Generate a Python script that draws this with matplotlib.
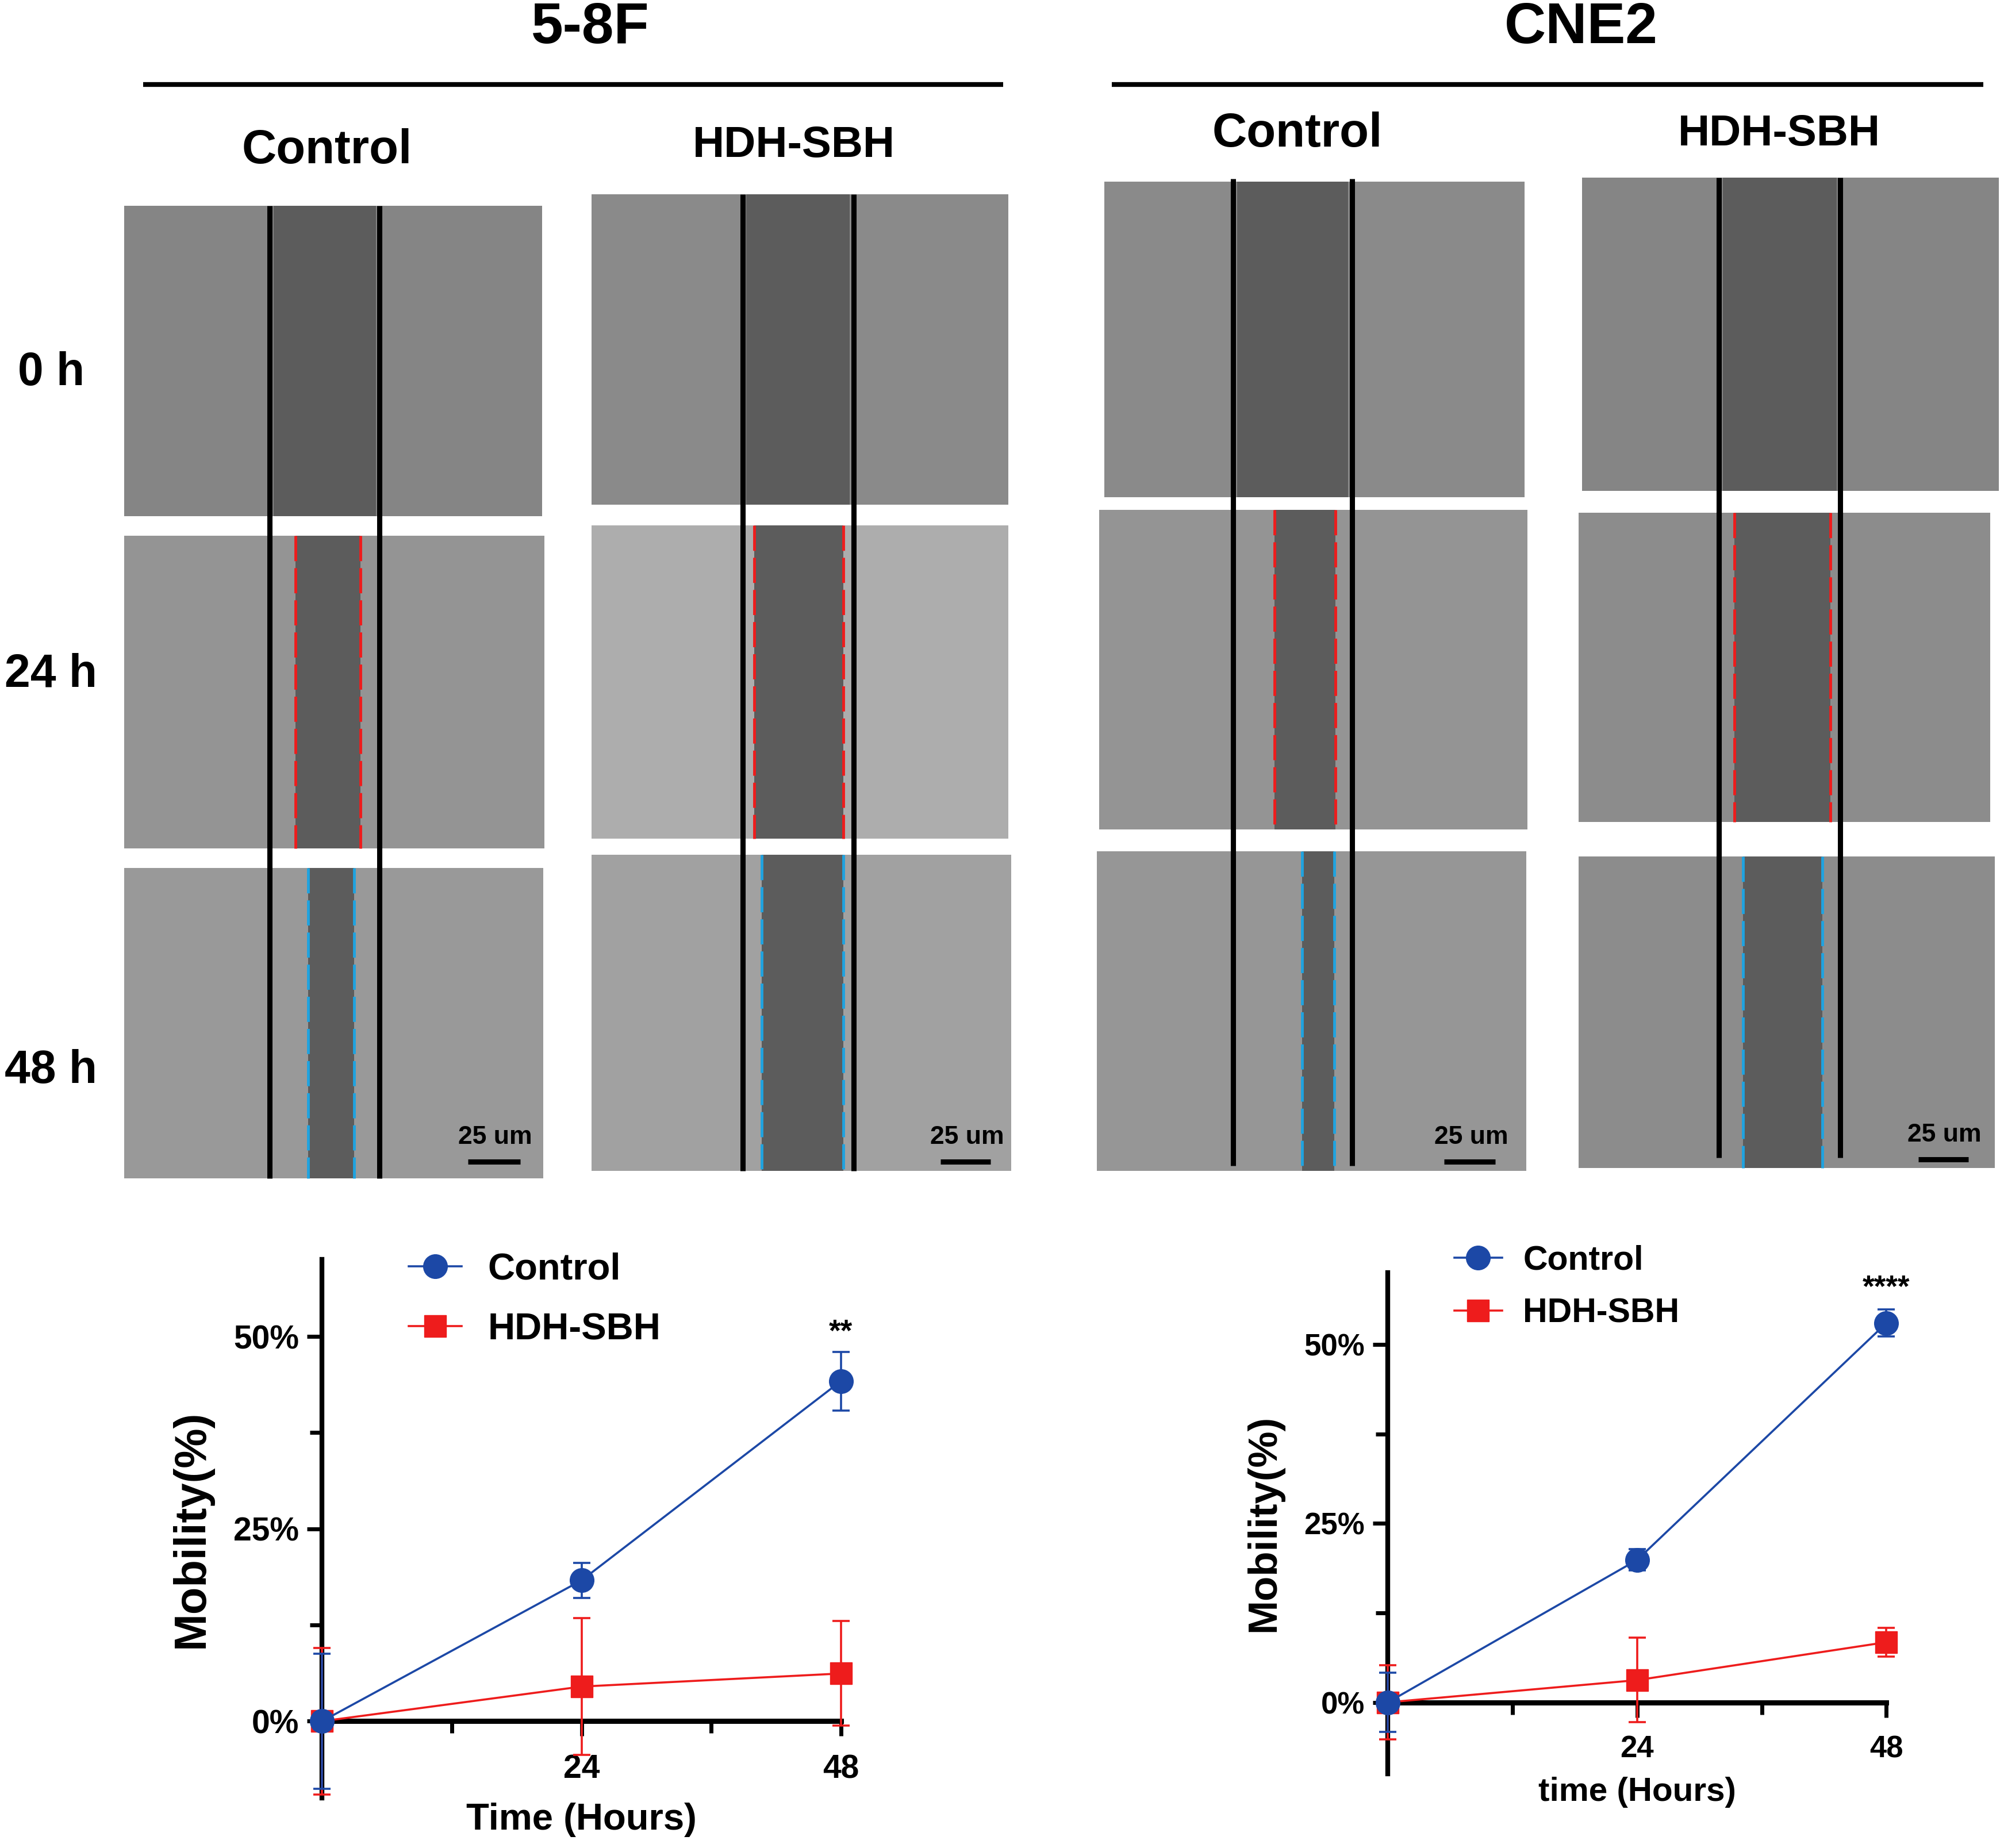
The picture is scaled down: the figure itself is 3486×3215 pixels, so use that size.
import matplotlib
matplotlib.use("Agg")
import matplotlib.pyplot as plt
from matplotlib.patches import Rectangle
from matplotlib.lines import Line2D
from matplotlib.ticker import PercentFormatter, FixedLocator

plt.rcParams['font.family'] = ['Liberation Sans Narrow', 'Liberation Sans', 'DejaVu Sans']
plt.rcParams['font.weight'] = 'bold'
plt.rcParams['axes.labelweight'] = 'bold'

# ---- data ----
hours = [0, 24, 48]
ctrl_58f = [0, 18.3, 44.2]
ctrl_58f_err = [8.8, 2.3, 3.8]
hdh_58f = [0, 4.5, 6.2]
hdh_58f_err = [9.5, 8.9, 6.8]

ctrl_cne2 = [0, 19.9, 53.0]
ctrl_cne2_err = [4.1, 1.5, 1.9]
hdh_cne2 = [0, 3.1, 8.4]
hdh_cne2_err = [5.2, 5.9, 2.0]

cell_lines = ['5-8F', 'CNE2']
groups = ['Control', 'HDH-SBH']
time_rows = ['0 h', '24 h', '48 h']
sig_58f = '**'
sig_cne2 = '****'

BLUE = '#1c48a6'
RED = '#ee1c1c'
CYAN = '#1fa3e0'

# ---- figure, work in reference pixel units (1568 x 1446 preview) ----
W, H = 1568, 1446
fig = plt.figure(figsize=(34.86, 32.15), dpi=100)
base = fig.add_axes([0, 0, 1, 1])
base.set_xlim(0, W)
base.set_ylim(H, 0)
base.axis('off')


def frect(x0, y0, x1, y1):
    return [x0 / W, 1 - y1 / H, (x1 - x0) / W, (y1 - y0) / H]


# headers
for name, cx, (lx0, lx1) in zip(cell_lines, [462, 1237], [(112, 785), (870, 1552)]):
    base.text(cx, 22, name, ha='center', va='center', fontsize=72)
    base.plot([lx0, lx1], [66, 66], color='black', lw=6, solid_capstyle='butt')

head_pos = [(256, 118, 60), (621, 114, 55), (1015, 105, 60), (1392, 105, 55)]
for (hx, hy, fs), g in zip(head_pos, groups * 2):
    base.text(hx, hy, g, ha='center', va='center', fontsize=fs)

for lab, ry in zip(time_rows, [292, 528, 838]):
    base.text(40, ry, lab, ha='center', va='center', fontsize=58)

# microscopy panels (flat tones stand in for the photographs)
panel_boxes = [
    [(97, 161, 424, 404), (97, 419, 426, 664), (97, 679, 425, 922)],
    [(463, 152, 789, 395), (463, 411, 789, 656), (463, 669, 791, 916)],
    [(864, 142, 1193, 389), (860, 399, 1195, 649), (858, 666, 1194, 916)],
    [(1238, 139, 1564, 384), (1235, 401, 1557, 643), (1235, 670, 1561, 914)],
]
cell_tone = [
    [0.52, 0.58, 0.60],
    [0.54, 0.68, 0.63],
    [0.54, 0.58, 0.59],
    [0.52, 0.55, 0.55],
]
solid_lines = [(211, 297, 161, 922), (581, 668, 152, 916), (965, 1058, 140, 912), (1345, 1440, 139, 906)]
red_lines = [(231, 282), (590, 660), (997, 1045), (1357, 1432)]
blue_lines = [(241, 277), (596, 660), (1019, 1044), (1364, 1426)]
scale_bars = [(366, 407, 909), (736, 775, 909), (1130, 1170, 909), (1501, 1540, 907)]

for c in range(4):
    sx0, sx1, sy0, sy1 = solid_lines[c]
    gaps = [(sx0 + 3, sx1 - 3), red_lines[c], blue_lines[c]]
    for r in range(3):
        x0, y0, x1, y1 = panel_boxes[c][r]
        t = cell_tone[c][r]
        base.add_patch(Rectangle((x0, y0), x1 - x0, y1 - y0, color=str(t), lw=0))
        gx0, gx1 = gaps[r]
        base.add_patch(Rectangle((gx0, y0), gx1 - gx0, y1 - y0, color='0.36', lw=0))
    # dashed guides
    _, ry0, _, ry1 = panel_boxes[c][1]
    for xx in red_lines[c]:
        base.plot([xx, xx], [ry0, ry1], color=RED, lw=3.5, dashes=(9, 2.5))
    _, by0, _, by1 = panel_boxes[c][2]
    for xx in blue_lines[c]:
        base.plot([xx, xx], [by0, by1], color=CYAN, lw=3.5, dashes=(9, 2.5))
    for xx in (sx0, sx1):
        base.plot([xx, xx], [sy0, sy1], color='black', lw=6.5, solid_capstyle='butt')
    bx0, bx1, byy = scale_bars[c]
    base.plot([bx0, bx1], [byy, byy], color='black', lw=6.5, solid_capstyle='butt')
    base.text((bx0 + bx1) / 2 + 1, byy - 19, '25 um', ha='center', va='center', fontsize=32)


# ---- line charts ----
def mobility_chart(rect, ctrl, ctrl_err, hdh, hdh_err, sig, xlabel, leg_anchor, leg_space,
                   sig_off, fs_tick, fs_xlab, fs_ylab, fs_leg, xlab_pad, leg_pad):
    ax = fig.add_axes(frect(*rect))
    ax.set_xlim(0, 48)
    ax.set_ylim(-10, 60)
    ax.errorbar(hours, hdh, yerr=hdh_err, color=RED, marker='s', ms=28, lw=2.6,
                elinewidth=2.6, capsize=11, capthick=2.6, clip_on=False, zorder=3)
    ax.errorbar(hours, ctrl, yerr=ctrl_err, color=BLUE, marker='o', ms=30, lw=2.6,
                elinewidth=2.6, capsize=11, capthick=2.6, clip_on=False, zorder=4)
    for s in ('top', 'right'):
        ax.spines[s].set_visible(False)
    ax.spines['bottom'].set_position(('data', 0))
    ax.spines['left'].set_linewidth(6)
    ax.spines['bottom'].set_linewidth(6.5)
    ax.xaxis.set_major_locator(FixedLocator([24, 48]))
    ax.xaxis.set_minor_locator(FixedLocator([12, 36]))
    ax.yaxis.set_major_locator(FixedLocator([0, 25, 50]))
    ax.yaxis.set_minor_locator(FixedLocator([12.5, 37.5]))
    ax.yaxis.set_major_formatter(PercentFormatter(decimals=0))
    ax.tick_params(which='major', length=19, width=5, labelsize=fs_tick, pad=10)
    ax.tick_params(which='minor', length=15, width=5)
    ax.tick_params(axis='x', which='major', pad=22)
    ax.set_xlabel(xlabel, fontsize=fs_xlab, labelpad=xlab_pad)
    ax.set_ylabel('Mobility(%)', fontsize=fs_ylab, labelpad=26)
    ax.text(48, ctrl[2] + ctrl_err[2] + sig_off, sig, ha='center', va='bottom', fontsize=38)
    handles = [Line2D([], [], color=BLUE, marker='o', ms=30, lw=2.6),
               Line2D([], [], color=RED, marker='s', ms=28, lw=2.6)]
    ax.legend(handles, groups, loc='upper left', bbox_to_anchor=leg_anchor,
              bbox_transform=base.transData, frameon=False, fontsize=fs_leg,
              handlelength=1.4, handletextpad=leg_pad, labelspacing=leg_space,
              borderpad=0, borderaxespad=0)
    return ax


mobility_chart((252, 985.5, 658, 1407), ctrl_58f, ctrl_58f_err, hdh_58f, hdh_58f_err,
               sig_58f, 'Time (Hours)', (320, 980), 0.68, 0.6,
               41, 47, 56, 47, 22, 0.7)
mobility_chart((1086, 996, 1476, 1388), ctrl_cne2, ctrl_cne2_err, hdh_cne2, hdh_cne2_err,
               sig_cne2, 'time (Hours)', (1138, 974), 0.62, 0.9,
               38, 42, 51, 42.5, 16, 0.62)

fig.savefig('out.png', dpi=100)
